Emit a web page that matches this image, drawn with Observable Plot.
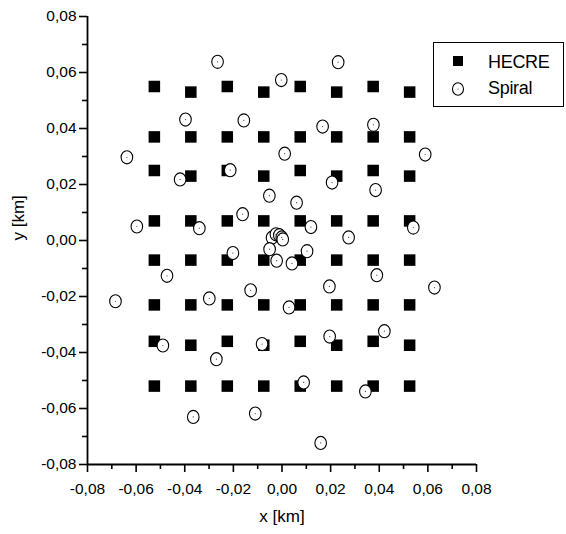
<!DOCTYPE html>
<html>
<head>
<meta charset="utf-8">
<script src="https://cdn.jsdelivr.net/npm/d3@7"></script>
<script src="https://cdn.jsdelivr.net/npm/@observablehq/plot@0.6"></script>
<style>
  html, body { margin: 0; padding: 0; background: #fff; }
  #wrap { position: relative; width: 566px; height: 534px; font-family: "Liberation Sans", Arial, sans-serif; }
  #legend { position: absolute; left: 433px; top: 42px; width: 131px; height: 65px; }
</style>
</head>
<body>
<div id="wrap">
  <div id="chart"></div>
  <div id="legend"></div>
</div>
<script>
// ---- data ----
const hecreColumns = [-0.0525, -0.0375, -0.0225, -0.0075, 0.0075, 0.0225, 0.0375, 0.0525];
const hecreRowsEvenCol = [0.055, 0.037, 0.025, 0.007, -0.007, -0.023, -0.036, -0.052];
const hecreRowsOddCol  = [0.053, 0.037, 0.023, 0.007, -0.007, -0.023, -0.0374, -0.052];

const spiralX = [
  -0.0265, 0.0231, -0.0003, -0.0397, -0.0157, 0.0167, 0.0376, -0.0638, 0.0011, 0.0589,
  -0.0419, -0.0213, 0.0206, 0.0385, -0.0052, -0.0162, 0.0060, -0.0597, -0.0340, 0.0119,
  0.0274, 0.0540, -0.0041, -0.0025, -0.0011, -0.0001, 0.0003, -0.0051, -0.0022, 0.0041,
  0.0103, -0.0202, -0.0129, 0.0195, -0.0473, -0.0685, -0.0299, 0.0029, -0.0490, -0.0270,
  -0.0082, -0.0365, -0.0110, 0.0390, 0.0627, 0.0196, 0.0421, 0.0089, 0.0343, 0.0159
];
const spiralY = [
  0.0638, 0.0637, 0.0573, 0.0432, 0.0429, 0.0407, 0.0413, 0.0297, 0.0310, 0.0307,
  0.0218, 0.0251, 0.0207, 0.0180, 0.0160, 0.0094, 0.0135, 0.0050, 0.0044, 0.0048,
  0.0011, 0.0046, 0.0010, 0.0022, 0.0019, 0.0011, 0.0004, -0.0031, -0.0072, -0.0082,
  -0.0038, -0.0045, -0.0178, -0.0164, -0.0126, -0.0217, -0.0207, -0.0239, -0.0375, -0.0424,
  -0.0370, -0.0630, -0.0618, -0.0124, -0.0168, -0.0343, -0.0324, -0.0507, -0.0539, -0.0723
];

const majorTicks = [-0.08, -0.06, -0.04, -0.02, 0, 0.02, 0.04, 0.06, 0.08];
const minorTicks = [-0.07, -0.05, -0.03, -0.01, 0.01, 0.03, 0.05, 0.07];
const xTitle = "x [km]";
const yTitle = "y [km]";
const legendLabels = ["HECRE", "Spiral"];

// ---- tables ----
const hecre = [];
hecreColumns.forEach((cx, i) => {
  const rows = i % 2 === 0 ? hecreRowsEvenCol : hecreRowsOddCol;
  rows.forEach(cy => hecre.push({x: cx, y: cy}));
});
const spiral = spiralX.map((x, i) => ({x, y: spiralY[i]}));

const fmt = d => d3.format(".2f")(d).replace(".", ",").replace("\u2212", "-");

// slightly tall ellipse, like the reference's open markers
const ellipseSymbol = {
  draw(context, size) {
    const rx = Math.sqrt(size / Math.PI), ry = rx * 1.13, k = 0.5523;
    context.moveTo(rx, 0);
    context.bezierCurveTo(rx, ry * k, rx * k, ry, 0, ry);
    context.bezierCurveTo(-rx * k, ry, -rx, ry * k, -rx, 0);
    context.bezierCurveTo(-rx, -ry * k, -rx * k, -ry, 0, -ry);
    context.bezierCurveTo(rx * k, -ry, rx, -ry * k, rx, 0);
    context.closePath();
  }
};

const chart = Plot.plot({
  width: 566,
  height: 534,
  marginLeft: 87,
  marginRight: 90,
  marginTop: 16,
  marginBottom: 70,
  x: {domain: [-0.08, 0.08], label: null},
  y: {domain: [-0.08, 0.08], label: null},
  style: {fontFamily: "'Liberation Sans', Arial, sans-serif", fontSize: "15px", color: "black", background: "white", overflow: "visible"},
  marks: [
    Plot.axisX(majorTicks, {tickSize: 8, tickPadding: 10, tickFormat: fmt, label: null, strokeWidth: 1.6, fontSize: 15.5}),
    Plot.axisX(minorTicks, {tickSize: 5, tickFormat: () => "", label: null, strokeWidth: 1.6}),
    Plot.axisY(majorTicks, {tickSize: 8, tickPadding: 3, tickFormat: fmt, label: null, strokeWidth: 1.6, fontSize: 15.5}),
    Plot.axisY(minorTicks, {tickSize: 5, tickFormat: () => "", label: null, strokeWidth: 1.6}),
    Plot.ruleX([-0.08], {stroke: "black", strokeWidth: 1.8}),
    Plot.ruleY([-0.08], {stroke: "black", strokeWidth: 1.8}),
    Plot.dot(hecre, {x: "x", y: "y", symbol: "square", r: 6.5, fill: "black", stroke: null}),
    Plot.dot(spiral, {x: "x", y: "y", symbol: ellipseSymbol, r: 5.8, fill: "white", stroke: "black", strokeWidth: 1.1}),
    Plot.dot(spiral, {x: "x", y: "y", r: 0.6, fill: "#444", stroke: null}),
    Plot.text([yTitle], {frameAnchor: "left", dx: -69, rotate: -90, fontSize: 17}),
    Plot.text([xTitle], {frameAnchor: "bottom", dy: 57, fontSize: 17})
  ]
});
document.getElementById("chart").appendChild(chart);

// ---- legend ----
const lg = d3.select("#legend").append("svg").attr("width", 131).attr("height", 65)
  .style("font-family", "'Liberation Sans', Arial, sans-serif");
lg.append("rect").attr("x", 0.5).attr("y", 0.5).attr("width", 130).attr("height", 64)
  .attr("fill", "white").attr("stroke", "black").attr("stroke-width", 1);
lg.append("path").attr("transform", "translate(25,19)")
  .attr("d", d3.symbol(d3.symbolSquare, 100)()).attr("fill", "black");
lg.append("path").attr("transform", "translate(25,47)")
  .attr("d", d3.symbol(ellipseSymbol, Math.PI * 5.5 * 5.5)())
  .attr("fill", "white").attr("stroke", "black").attr("stroke-width", 1.1);
lg.append("circle").attr("cx", 25).attr("cy", 47).attr("r", 0.6).attr("fill", "#444");
lg.append("text").attr("x", 55).attr("y", 26).attr("font-size", 18).attr("letter-spacing", -0.3).text(legendLabels[0]);
lg.append("text").attr("x", 55).attr("y", 52).attr("font-size", 18).attr("letter-spacing", -0.3).text(legendLabels[1]);
</script>
</body>
</html>
